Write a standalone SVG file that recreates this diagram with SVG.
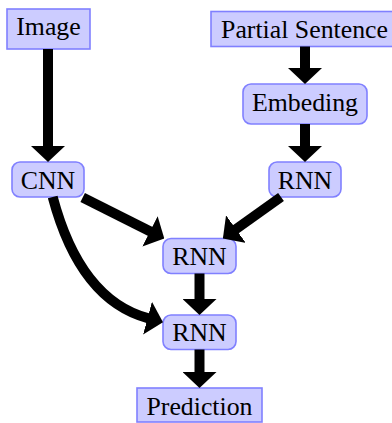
<svg xmlns="http://www.w3.org/2000/svg" width="392" height="423" viewBox="0 0 392 423">
  <style>
    .box { fill: #ccccff; stroke: #8080ff; stroke-width: 1.6; }
    .lbl { font-size: 25.8px; fill: #000; text-anchor: middle; }
    .edge { fill: none; stroke: #000; stroke-width: 10; stroke-linecap: butt; marker-end: url(#head); }
  </style>
  <defs>
    <marker id="head" viewBox="0 0 16 34" markerWidth="16" markerHeight="34" refX="1" refY="17" orient="auto" markerUnits="userSpaceOnUse">
      <path d="M0,0 L16,17 L0,34 z" fill="#000"/>
    </marker>
  </defs>

  <rect width="392" height="423" fill="#fff"/>

  <!-- nodes -->
  <g id="nodes" font-family="'Liberation Serif', 'DejaVu Serif', serif">
    <g id="image">
      <rect class="box" x="7" y="9" width="83" height="40"/>
      <text class="lbl" x="48.5" y="35">Image</text>
    </g>
    <g id="partial-sentence">
      <rect class="box" x="211" y="11.5" width="187" height="35"/>
      <text class="lbl" x="304.5" y="37.5">Partial Sentence</text>
    </g>
    <g id="embeding">
      <rect class="box" x="243" y="84" width="124" height="40" rx="8"/>
      <text class="lbl" x="305" y="111">Embeding</text>
    </g>
    <g id="cnn">
      <rect class="box" x="12" y="162" width="72" height="35" rx="8"/>
      <text class="lbl" x="48" y="188.5">CNN</text>
    </g>
    <g id="rnn-text">
      <rect class="box" x="269" y="162" width="72" height="35" rx="8"/>
      <text class="lbl" x="305" y="188.5">RNN</text>
    </g>
    <g id="rnn-merge">
      <rect class="box" x="163" y="238.5" width="73" height="35" rx="8"/>
      <text class="lbl" x="199.5" y="265">RNN</text>
    </g>
    <g id="rnn-out">
      <rect class="box" x="163" y="315" width="73" height="34.5" rx="8"/>
      <text class="lbl" x="199.5" y="341">RNN</text>
    </g>
    <g id="prediction">
      <rect class="box" x="137" y="388" width="125" height="34"/>
      <text class="lbl" x="199.5" y="414.5">Prediction</text>
    </g>
  </g>

  <!-- connectors -->
  <g id="connectors">
    <path class="edge" d="M48,49 L48,147"/>
    <path class="edge" d="M305,46.5 L305,69"/>
    <path class="edge" d="M305,124 L305,147"/>
    <path class="edge" d="M82.7,197.5 L150.9,231.8"/>
    <path class="edge" d="M281,197 L235.1,229.7"/>
    <path class="edge" d="M52.7,197 C69.6,260.5 100,305.4 148.5,318.4"/>
    <path class="edge" d="M199.5,273.5 L199.5,300"/>
    <path class="edge" d="M199.5,349.5 L199.5,373"/>
  </g>
</svg>
